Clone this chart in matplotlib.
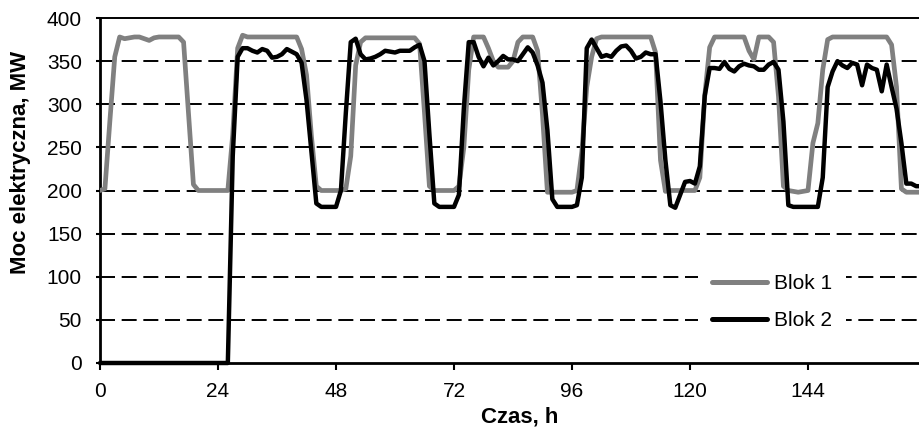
import matplotlib
matplotlib.use("Agg")
import matplotlib.pyplot as plt

plt.rcParams['font.family'] = ['Liberation Sans', 'DejaVu Sans']
plt.rcParams['lines.scale_dashes'] = False

hours = list(range(0, 168))

blok1 = [200, 202, 280, 355, 378, 376, 377, 378, 378, 376,
         374, 377, 378, 378, 378, 378, 378, 372, 290, 207,
         200, 200, 200, 200, 200, 200, 200, 265, 365, 380,
         378, 378, 378, 378, 378, 378, 378, 378, 378, 378,
         378, 364, 334, 263, 205, 200, 200, 200, 200, 200,
         202, 240, 345, 372, 377, 377, 377, 377, 377, 377,
         377, 377, 377, 377, 377, 370, 290, 205, 200, 200,
         200, 200, 200, 205, 250, 340, 378, 378, 378, 365,
         350, 343, 343, 343, 350, 372, 378, 378, 378, 362,
         288, 198, 198, 198, 198, 198, 198, 200, 245, 320,
         355, 376, 378, 378, 378, 378, 378, 378, 378, 378,
         378, 378, 378, 360, 235, 199, 200, 200, 200, 200,
         200, 200, 215, 310, 366, 378, 378, 378, 378, 378,
         378, 378, 362, 352, 378, 378, 378, 372, 309, 205,
         200, 199, 198, 199, 200, 255, 278, 340, 375, 378,
         378, 378, 378, 378, 378, 378, 378, 378, 378, 378,
         378, 369, 320, 202, 198, 198, 198, 198]

blok2 = [0, 0, 0, 0, 0, 0, 0, 0, 0, 0,
         0, 0, 0, 0, 0, 0, 0, 0, 0, 0,
         0, 0, 0, 0, 0, 0, 0, 240, 355, 365,
         365, 362, 360, 364, 362, 354, 355, 358, 364, 361,
         358, 348, 305, 245, 185, 181, 181, 181, 181, 200,
         290, 372, 376, 358, 352, 353, 355, 358, 362, 361,
         360, 362, 362, 362, 366, 369, 350, 265, 185, 181,
         181, 181, 181, 195, 295, 372, 372, 355, 344, 354,
         345, 350, 356, 352, 352, 350, 358, 366, 360, 345,
         325, 270, 190, 181, 181, 181, 181, 183, 215, 365,
         375, 365, 355, 357, 355, 362, 367, 368, 362, 353,
         355, 360, 358, 358, 303, 235, 183, 180, 195, 210,
         211, 208, 228, 310, 342, 342, 341, 349, 341, 338,
         344, 347, 345, 344, 340, 340, 346, 349, 340, 280,
         183, 181, 181, 181, 181, 181, 181, 215, 320, 338,
         350, 345, 342, 348, 346, 322, 346, 342, 340, 315,
         346, 320, 295, 255, 208, 208, 205, 205]

series_labels = ["Blok 1", "Blok 2"]
x_ticks = [0, 24, 48, 72, 96, 120, 144]
y_ticks = [0, 50, 100, 150, 200, 250, 300, 350, 400]

W, H = 920, 430
fig = plt.figure(figsize=(W / 100, H / 100), dpi=100)
ax = fig.add_axes([100 / W, (H - 363) / H, 826 / W, 345 / H])

ax.set_xlim(0, 168)
ax.set_ylim(0, 400)
ax.set_xticks(x_ticks)
ax.set_yticks(y_ticks)

for yv in y_ticks[1:-1]:
    ax.axhline(yv, color='black', lw=1.4, linestyle=(0, (10.8, 4.8)), zorder=1)

ax.plot(hours, blok1, color='#808080', lw=3.4, label=series_labels[0],
        zorder=3, solid_joinstyle='round', solid_capstyle='round')
ax.plot(hours, blok2, color='black', lw=3.2, label=series_labels[1],
        zorder=4, clip_on=False, solid_joinstyle='round', solid_capstyle='round')

for side in ['left', 'bottom']:
    ax.spines[side].set_linewidth(2.0)
ax.spines['top'].set_linewidth(1.4)
ax.spines['right'].set_visible(False)

ax.tick_params(axis='y', length=3, width=1.5, pad=10, labelsize=15)
ax.tick_params(axis='x', length=5, width=1.5, pad=9, labelsize=15)

leg = ax.legend(loc='center', bbox_to_anchor=(0.8136, 0.1768), fontsize=15,
                frameon=True, fancybox=False, framealpha=1, borderpad=0.7,
                handlelength=2.65, handletextpad=0.3, labelspacing=0.85)
leg.get_frame().set_edgecolor('none')
leg.get_frame().set_facecolor('white')
for line in leg.get_lines():
    line.set_linewidth(3.6)

fig.text(520 / W, 1 - 428 / H, "Czas, h", ha='center', va='bottom',
         fontsize=16, fontweight='bold')
fig.text(21 / W, 1 - 162 / H, "Moc elektryczna, MW", ha='center', va='center',
         rotation=90, fontsize=16, fontweight='bold')

fig.savefig("out.png", dpi=100)
